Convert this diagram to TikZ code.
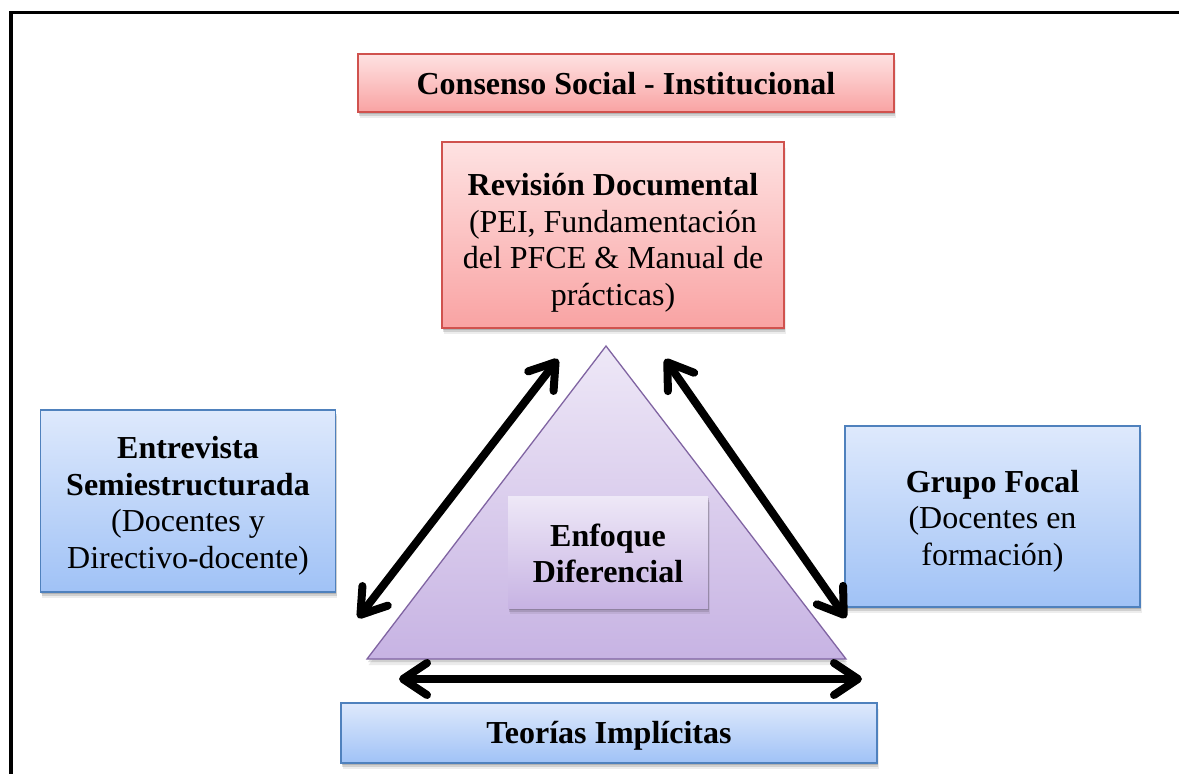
\documentclass[tikz,border=0pt]{standalone}
\usepackage{fontspec}
\setmainfont{Liberation Serif}
\usetikzlibrary{arrows.meta,shadows,calc}
\definecolor{pinkTop}{RGB}{254,226,226}
\definecolor{pinkBot}{RGB}{249,163,163}
\definecolor{pinkLine}{RGB}{208,82,78}
\definecolor{blueTop}{RGB}{222,233,252}
\definecolor{blueBot}{RGB}{160,194,246}
\definecolor{blueLine}{RGB}{79,129,189}
\definecolor{lavTop}{RGB}{238,232,247}
\definecolor{lavBot}{RGB}{199,179,227}
\definecolor{lavLine}{RGB}{128,100,162}
\newcommand\lowtext[2]{\raisebox{-#1}[\height][\depth]{\begin{tabular}{@{}c@{}}#2\end{tabular}}}
\begin{document}
\begin{tikzpicture}[x=1pt,y=-1pt,
  box/.style={inner sep=0pt, align=center,
    font=\fontsize{32}{36.5}\selectfont,
    drop shadow={shadow xshift=0.5pt, shadow yshift=-2pt, opacity=0.14, fill=black},
    drop shadow={shadow xshift=1pt, shadow yshift=-4pt, opacity=0.12, fill=black},
    drop shadow={shadow xshift=1.5pt, shadow yshift=-6pt, opacity=0.07, fill=black}},
  pinkbox/.style={box, draw=pinkLine, line width=1.4pt, top color=pinkTop, bottom color=pinkBot},
  bluebox/.style={box, draw=blueLine, line width=1.4pt, top color=blueTop, bottom color=blueBot},
  lavbox/.style={box, top color=lavTop, bottom color=lavBot},
  dblarrow/.style={line width=8pt, line cap=round, line join=round,
    {Straight Barb[length=24pt, width=32pt, line cap=round, line join=round]}-{Straight Barb[length=24pt, width=32pt, line cap=round, line join=round]},
    preaction={draw=black, opacity=0.15, transform canvas={yshift=-3pt}}}
]
\useasboundingbox (0,0) rectangle (1179,774);
\fill[white] (0,0) rectangle (1179,774);

% outer frame (only left and top edges are visible)
\coordinate (fbl) at (11,774);
\coordinate (ftl) at (11,12.5);
\coordinate (ftr) at (1179,12.5);
\draw[line width=3.6pt] (fbl) -- (ftl) -- (ftr);

% triangle
\coordinate (apex) at (606,346);
\coordinate (bl) at (367,659);
\coordinate (br) at (846,659);
\fill[black, opacity=0.12] ($(apex)+(1,3)$) -- ($(bl)+(1,3)$) -- ($(br)+(1,3)$) -- cycle;
\fill[black, opacity=0.08] ($(apex)+(1.5,6)$) -- ($(bl)+(1.5,6)$) -- ($(br)+(1.5,6)$) -- cycle;
\shade[top color=lavTop, bottom color=lavBot, draw=lavLine, line width=1.3pt] (apex) -- (bl) -- (br) -- cycle;

% boxes
\node[pinkbox, minimum width=536pt, minimum height=58pt] (cons) at (626,83)
  {\lowtext{4pt}{\textbf{Consenso Social - Institucional}}};
\node[pinkbox, minimum width=342pt, minimum height=186pt] (rev) at (613,235)
  {\lowtext{8pt}{\textbf{Revisión Documental}\\(PEI, Fundamentación\\del PFCE \& Manual de\\prácticas)}};
\node[bluebox, minimum width=295pt, minimum height=182pt] (ent) at (188,501)
  {\lowtext{5pt}{\textbf{Entrevista}\\\textbf{Semiestructurada}\\(Docentes y\\Directivo-docente)}};
\node[bluebox, minimum width=295pt, minimum height=181pt] (gru) at (992.5,516.5)
  {\lowtext{5pt}{\textbf{Grupo Focal}\\(Docentes en\\formación)}};
\node[bluebox, minimum width=536pt, minimum height=60pt] (teo) at (609,733)
  {\lowtext{3pt}{\textbf{Teorías Implícitas}}};
\node[lavbox, minimum width=200pt, minimum height=112pt] (enf) at (608,552)
  {\lowtext{5pt}{\textbf{Enfoque}\\\textbf{Diferencial}}};

% arrows
\coordinate (la1) at (358,618);
\coordinate (la2) at (558,359);
\coordinate (ra1) at (665,359);
\coordinate (ra2) at (846,618);
\coordinate (ba1) at (399,679);
\coordinate (ba2) at (862,679);
\draw[dblarrow] (la1) -- (la2);
\draw[dblarrow] (ra1) -- (ra2);
\draw[dblarrow] (ba1) -- (ba2);
\end{tikzpicture}
\end{document}
